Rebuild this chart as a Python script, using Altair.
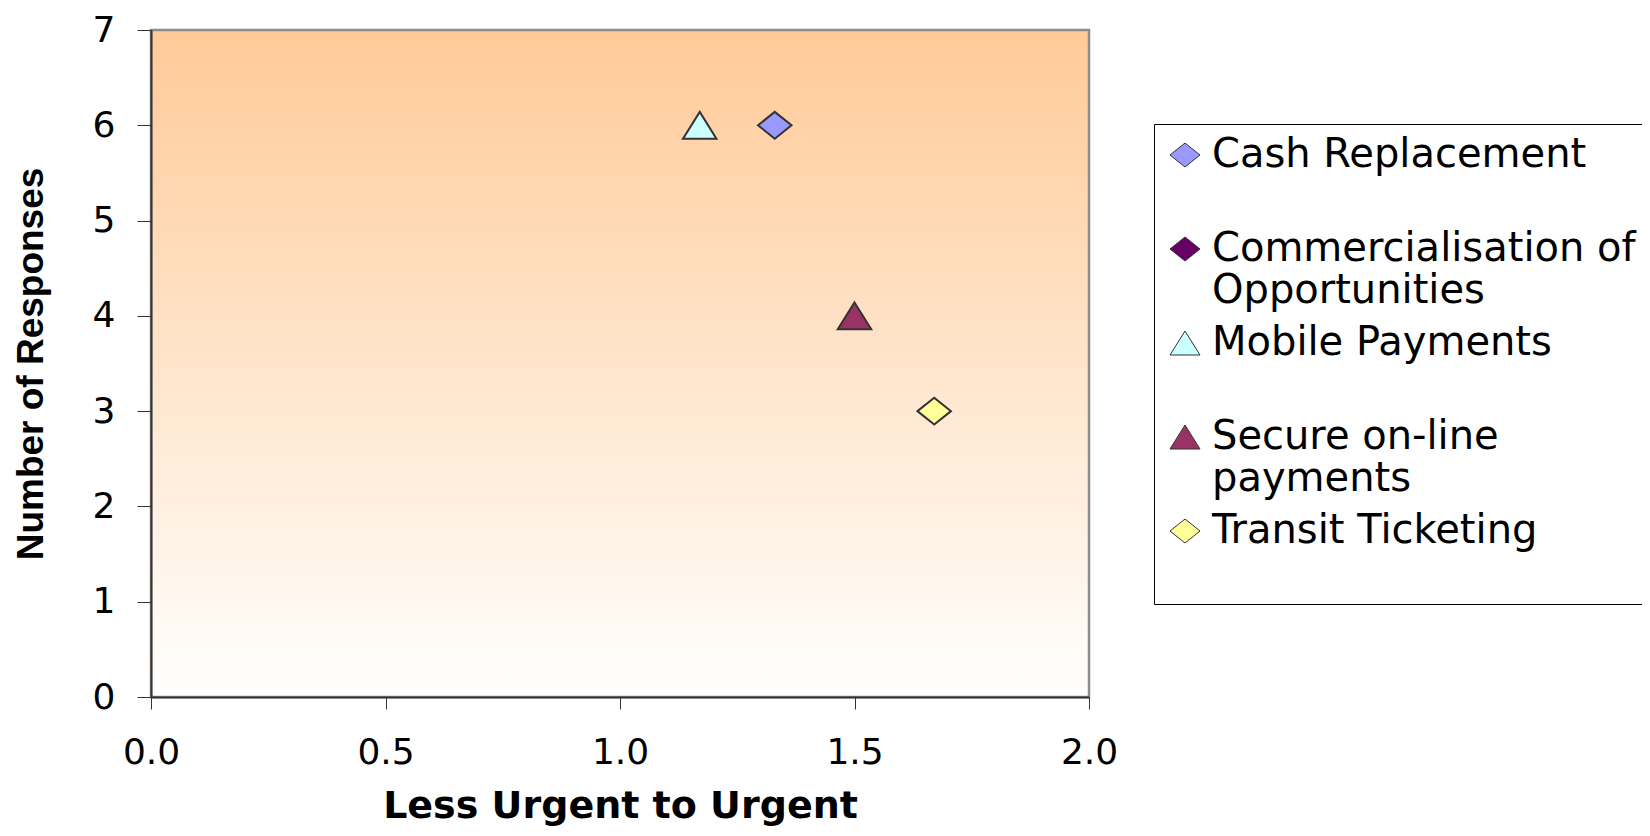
import json
import altair as alt
import pandas as pd

# ---- data ----
categories = [
    "Cash Replacement",
    "Commercialisation of Opportunities",
    "Mobile Payments",
    "Secure on-line payments",
    "Transit Ticketing",
]
legend_lines = [
    ["Cash Replacement", ""],
    ["Commercialisation of", "Opportunities"],
    ["Mobile Payments", ""],
    ["Secure on-line", "payments"],
    ["Transit Ticketing", ""],
]
fill_colors = ["#9999FF", "#660066", "#CCFFFF", "#993366", "#FFFF99"]
edge_colors = ["#333333", "#333333", "#333333", "#333333", "#333333"]

DIAMOND = "M-1,0L0,-0.8L1,0L0,0.8Z"
TRIANGLE = "M0,-0.8L1,0.8L-1,0.8Z"
shape_paths = [DIAMOND, DIAMOND, TRIANGLE, TRIANGLE, DIAMOND]

point_series = ["Cash Replacement", "Mobile Payments", "Secure on-line payments", "Transit Ticketing"]
urgency = [1.33, 1.17, 1.50, 1.67]
responses = [6, 6, 4, 3]

x_ticks = [0.0, 0.5, 1.0, 1.5, 2.0]
y_ticks = [0, 1, 2, 3, 4, 5, 6, 7]

df = pd.DataFrame({"series": point_series, "urgency": urgency, "responses": responses})

# legend label expression (multi-line labels)
expr = "[datum.label, '']"
for cat, lines in reversed(list(zip(categories, legend_lines))):
    expr = f"datum.label === {json.dumps(cat)} ? {json.dumps(lines)} : ({expr})"

legend = alt.Legend(
    title=None,
    orient="none",
    legendX=1003,
    legendY=94,
    direction="vertical",
    padding=11,
    strokeColor="#000000",
    labelFont="DejaVu Sans",
    labelFontSize=40,
    labelColor="#000000",
    labelLimit=1000,
    labelOffset=7,
    labelBaseline="middle",
    labelExpr=expr,
    symbolSize=900,
    symbolStrokeColor="#333333",
    symbolStrokeWidth=1,
    symbolOpacity=1,
    rowPadding=12,
)

gradient = alt.Gradient(
    gradient="linear",
    stops=[
        alt.GradientStop(color="#FFCA98", offset=0),
        alt.GradientStop(color="#FFFFFF", offset=1),
    ],
    x1=0, x2=0, y1=0, y2=1,
)

bg = alt.Chart(alt.Data(values=[{}])).mark_rect(
    fill=gradient, stroke="#8C8C8C", strokeWidth=2.5
).encode(
    x=alt.value(0), x2=alt.value("width"), y=alt.value(0), y2=alt.value("height")
)

points = alt.Chart(df).mark_point(
    filled=True, opacity=1, size=1120, strokeWidth=2
).encode(
    x=alt.X(
        "urgency:Q",
        scale=alt.Scale(domain=[0, 2], nice=False, zero=True),
        axis=alt.Axis(
            values=x_ticks,
            format=".1f",
            title="Less Urgent to Urgent",
            titleFont="DejaVu Sans",
            titleFontSize=38,
            titleFontWeight="bold",
            titleColor="#000000",
            titlePadding=17,
            labelFont="DejaVu Sans",
            labelFontSize=36,
            labelColor="#000000",
            labelPadding=26,
            labelFlush=False,
            tickSize=12,
            tickColor="#333333",
            tickWidth=1,
            domainColor="#333333",
            domainWidth=2,
            grid=False,
            zindex=1,
        ),
    ),
    y=alt.Y(
        "responses:Q",
        scale=alt.Scale(domain=[0, 7], nice=False, zero=True),
        axis=alt.Axis(
            values=y_ticks,
            format="d",
            title="Number of Responses",
            titleFont="Liberation Sans",
            titleFontSize=37,
            titleFontWeight="bold",
            titleColor="#000000",
            titlePadding=42,
            labelFont="DejaVu Sans",
            labelFontSize=36,
            labelColor="#000000",
            labelPadding=22,
            labelFlush=False,
            tickSize=14,
            tickColor="#333333",
            tickWidth=1,
            domainColor="#333333",
            domainWidth=2,
            grid=False,
            zindex=1,
        ),
    ),
    fill=alt.Fill("series:N", scale=alt.Scale(domain=categories, range=fill_colors), legend=legend),
    shape=alt.Shape("series:N", scale=alt.Scale(domain=categories, range=shape_paths), legend=legend),
    stroke=alt.Stroke("series:N", scale=alt.Scale(domain=categories, range=edge_colors), legend=legend),
)

chart = alt.layer(bg, points).properties(
    width=938,
    height=667,
    autosize=alt.AutoSizeParams(type="none"),
    padding={"left": 143, "top": 22, "right": 553, "bottom": 131},
    background="#FFFFFF",
).configure_view(stroke=None)

chart.save("out.html", embed_options={"renderer": "svg", "actions": False})
